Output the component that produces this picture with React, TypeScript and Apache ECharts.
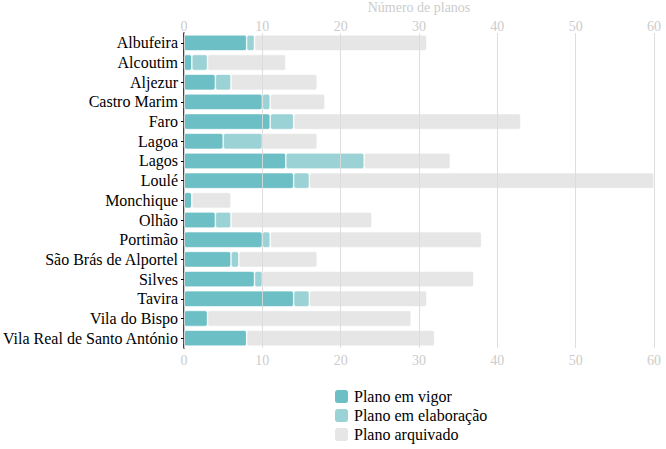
import React, { useEffect, useRef } from "react";
import * as echarts from "echarts";

const categories = [
  "Albufeira", "Alcoutim", "Aljezur", "Castro Marim", "Faro", "Lagoa", "Lagos", "Loulé",
  "Monchique", "Olhão", "Portimão", "São Brás de Alportel", "Silves", "Tavira", "Vila do Bispo",
  "Vila Real de Santo António",
];
const emVigor = [8, 1, 4, 10, 11, 5, 13, 14, 1, 4, 10, 6, 9, 14, 3, 8];
const emElaboracao = [1, 2, 2, 1, 3, 5, 10, 2, 0, 2, 1, 1, 1, 2, 0, 0];
const arquivado = [22, 10, 11, 7, 29, 7, 11, 44, 5, 18, 27, 10, 27, 15, 26, 24];
const seriesNames = ["Plano em vigor", "Plano em elaboração", "Plano arquivado"];
const colors = ["#6bbfc5", "#9bd2d5", "#e6e6e6"];
const FONT = "Liberation Serif";

export default function App() {
  const ref = useRef<HTMLDivElement>(null);
  useEffect(() => {
    const chart = echarts.init(ref.current!, null, { renderer: "svg" });
    const data = [emVigor, emElaboracao, arquivado];
    const axisCommon = {
      type: "value" as const,
      min: 0,
      max: 60,
      interval: 10,
      axisLine: { show: false },
      axisTick: { show: false },
    };
    chart.setOption({
      animation: false,
      textStyle: { fontFamily: FONT },
      grid: { left: 184, right: 12, top: 33, height: 315, containLabel: false, outerBoundsMode: "none" },
      xAxis: [
        {
          ...axisCommon,
          position: "top",
          z: 10,
          name: "Número de planos",
          nameLocation: "middle",
          nameGap: 12,
          nameTextStyle: { color: "#cccccc", fontFamily: FONT, fontSize: 14 },
          axisLabel: { color: "#cccccc", fontFamily: FONT, fontSize: 14, margin: 0 },
          splitLine: { show: true, lineStyle: { color: "#dadada", width: 1, opacity: 0.9 } },
        },
        {
          ...axisCommon,
          position: "bottom",
          axisLabel: { color: "#cccccc", fontFamily: FONT, fontSize: 14, margin: 5 },
          splitLine: { show: false },
        },
      ],
      yAxis: {
        type: "category",
        data: categories,
        inverse: true,
        axisLine: { show: true, lineStyle: { color: "#000", width: 1.5 } },
        axisTick: { show: true, length: 3, alignWithLabel: true, lineStyle: { color: "#000" } },
        axisLabel: { color: "#000", fontFamily: FONT, fontSize: 16, margin: 6, interval: 0 },
      },
      legend: {
        orient: "vertical",
        left: 333,
        top: 388,
        height: 80,
        padding: 0,
        icon: "roundRect",
        itemWidth: 15,
        itemHeight: 15,
        itemGap: 2,
        textStyle: { color: "#000", fontFamily: FONT, fontSize: 16 },
        data: seriesNames,
      },
      series: seriesNames.map((name, i) => ({
        name,
        type: "bar",
        stack: "total",
        xAxisIndex: 0,
        barWidth: 16,
        data: data[i],
        itemStyle: {
          color: colors[i],
          borderRadius: 2,
          borderColor: "#ffffff",
          borderWidth: 0.6,
        },
      })),
    });
    return () => chart.dispose();
  }, []);
  return <div ref={ref} style={{ width: 666, height: 449, position: "absolute", left: 0, top: 0 }} />;
}
